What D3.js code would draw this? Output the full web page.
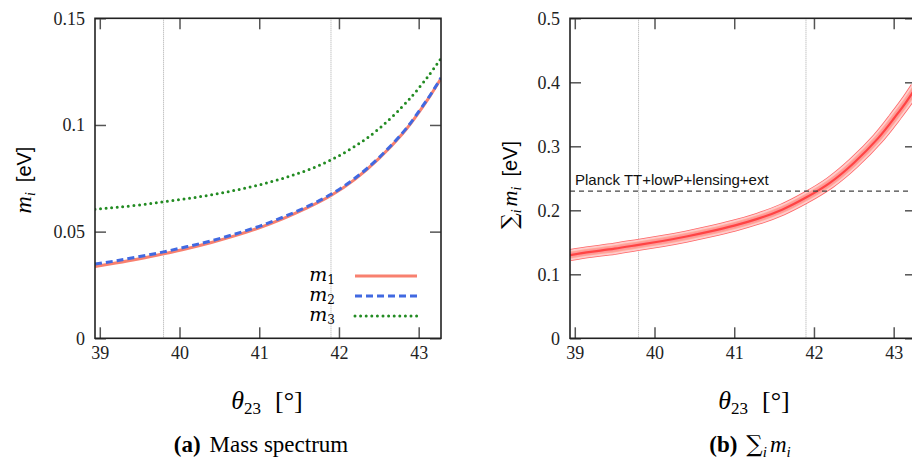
<!DOCTYPE html>
<html>
<head>
<meta charset="utf-8">
<script src="https://cdn.jsdelivr.net/npm/d3@7"></script>
<style>
  body { margin: 0; background: #fff; }
  svg { display: block; }
</style>
</head>
<body>
<script>
// Data ////////////////////////////////////////////////////////////////////

const theta = [38.94, 39.2, 39.5, 39.8, 40.1, 40.4, 40.7, 41.0, 41.3, 41.6,
  41.9, 42.2, 42.5, 42.8, 43.0, 43.15, 43.28];
const m1 = [0.0337, 0.0353, 0.0373, 0.0396, 0.0421, 0.0449, 0.0481, 0.0518,
  0.0561, 0.0611, 0.0669, 0.0745, 0.0842, 0.0960, 0.1058, 0.1140, 0.1218];
const m2 = [0.0348, 0.0363, 0.0383, 0.0405, 0.0430, 0.0457, 0.0489, 0.0525,
  0.0568, 0.0617, 0.0675, 0.0750, 0.0846, 0.0964, 0.1062, 0.1143, 0.1221];
const m3 = [0.0605, 0.0614, 0.0625, 0.0640, 0.0655, 0.0673, 0.0694, 0.0719,
  0.0750, 0.0788, 0.0836, 0.0900, 0.0982, 0.1088, 0.1172, 0.1244, 0.1312];
const sumMass = [0.130, 0.135, 0.140, 0.146, 0.152, 0.159, 0.167, 0.176,
  0.187, 0.201, 0.220, 0.243, 0.274, 0.312, 0.343, 0.368, 0.392];

const thetaDomain = [38.94, 43.28];
const thetaTicks = [39, 40, 41, 42, 43];
const markedTheta = [39.8, 41.9];
const massDomain = [0, 0.15];
const massTicks = [0, 0.05, 0.1, 0.15];
const sumDomain = [0, 0.5];
const sumTicks = [0, 0.1, 0.2, 0.3, 0.4, 0.5];
const planckLimit = 0.23;
const planckLabel = "Planck TT+lowP+lensing+ext";
const legendIndex = ["1", "2", "3"];

const serif = "'Liberation Serif', 'DejaVu Serif', serif";
const mathSerif = "'DejaVu Serif', 'Liberation Serif', serif";
const sans = "'Liberation Sans', Arial, sans-serif";

const svg = d3
  .select("body")
  .append("svg")
  .attr("width", 912)
  .attr("height", 459);

const plotTop = 18.3;
const plotBottom = 338.3;

// Panel (a) ///////////////////////////////////////////////////////////////

const xa = d3.scaleLinear().domain(thetaDomain).range([95, 441]);
const ya = d3.scaleLinear().domain(massDomain).range([plotBottom, plotTop]);
const panelA = svg.append("g");

drawGuides(panelA, xa, ya, "clipA");

const massSeries = [
  { values: m1, color: "#f8806f", dash: null, width: 3 },
  { values: m2, color: "#4169e1", dash: "7,4", width: 3 },
  { values: m3, color: "#228b22", dash: "0,5.6", width: 3, cap: "round" },
];

massSeries.forEach((s) => {
  const line = d3
    .line()
    .x((d, i) => xa(theta[i]))
    .y((d) => ya(d))
    .curve(d3.curveNatural);
  panelA
    .append("path")
    .attr("clip-path", "url(#clipA)")
    .attr("d", line(s.values))
    .attr("fill", "none")
    .attr("stroke", s.color)
    .attr("stroke-width", s.width)
    .attr("stroke-linecap", s.cap || "butt")
    .attr("stroke-dasharray", s.dash);
});

drawFrame(panelA, xa, ya, massTicks);

// legend
const legend = panelA.append("g").attr("transform", "translate(0, 276)");
massSeries.forEach((s, i) => {
  const row = legend.append("g").attr("transform", `translate(0, ${i * 20})`);
  const t = row
    .append("text")
    .attr("x", 335)
    .attr("y", 5)
    .attr("text-anchor", "end")
    .style("font-family", mathSerif);
  t.append("tspan").style("font-size", "19px").style("font-style", "italic").text("m");
  t.append("tspan").style("font-size", "12px").attr("dy", 3).text(legendIndex[i]);
  row
    .append("line")
    .attr("x1", 355)
    .attr("x2", 417)
    .attr("stroke", s.color)
    .attr("stroke-width", s.width)
    .attr("stroke-linecap", s.cap || "butt")
    .attr("stroke-dasharray", s.dash);
});

drawThetaTitle(svg, 267);
drawMassTitle(svg.append("g").attr("transform", "translate(31, 180) rotate(-90)"), false);

const capA = svg
  .append("text")
  .attr("x", 261)
  .attr("y", 452)
  .attr("text-anchor", "middle")
  .style("font-family", serif)
  .style("font-size", "23px");
capA.append("tspan").style("font-weight", "bold").text("(a)");
capA.append("tspan").attr("dx", 9).text("Mass spectrum");

// Panel (b) ///////////////////////////////////////////////////////////////

const xb = d3.scaleLinear().domain(thetaDomain).range([570, 916]);
const yb = d3.scaleLinear().domain(sumDomain).range([plotBottom, plotTop]);
const panelB = svg.append("g");

drawGuides(panelB, xb, yb, "clipB");

const sumLine = d3
  .line()
  .x((d, i) => xb(theta[i]))
  .y((d) => yb(d))
  .curve(d3.curveNatural);

[
  { w: 12, c: "#f66" },
  { w: 10.5, c: "#fcc" },
  { w: 7, c: "#fa9" },
  { w: 5, c: "#f99" },
  { w: 2.2, c: "#f44" },
].forEach((b) => {
  panelB
    .append("path")
    .attr("clip-path", "url(#clipB)")
    .attr("d", sumLine(sumMass))
    .attr("fill", "none")
    .attr("stroke", b.c)
    .attr("stroke-width", b.w);
});

panelB
  .append("line")
  .attr("x1", xb(thetaDomain[0]))
  .attr("x2", xb(thetaDomain[1]))
  .attr("y1", yb(planckLimit))
  .attr("y2", yb(planckLimit))
  .attr("stroke", "#444")
  .attr("stroke-width", 1.3)
  .attr("stroke-dasharray", "5,4");

panelB
  .append("text")
  .attr("x", 575)
  .attr("y", yb(planckLimit) - 6)
  .style("font-family", sans)
  .style("font-size", "15px")
  .attr("fill", "#111")
  .text(planckLabel);

drawFrame(panelB, xb, yb, sumTicks);

drawThetaTitle(svg, 754);
drawMassTitle(svg.append("g").attr("transform", "translate(517, 185) rotate(-90)"), true);

const capB = svg
  .append("text")
  .attr("x", 750)
  .attr("y", 452)
  .attr("text-anchor", "middle")
  .style("font-family", serif)
  .style("font-size", "23px");
capB.append("tspan").style("font-weight", "bold").text("(b)");
capB.append("tspan").attr("dx", 9).style("font-family", mathSerif).text("\u2211");
capB.append("tspan").style("font-size", "15px").style("font-style", "italic").attr("dy", 5).text("i");
capB.append("tspan").attr("dy", -5).attr("dx", 3).style("font-style", "italic").text("m");
capB.append("tspan").style("font-size", "15px").style("font-style", "italic").attr("dy", 5).text("i");

// Helpers /////////////////////////////////////////////////////////////////

function drawGuides(root, x, y, clipId) {
  root
    .append("clipPath")
    .attr("id", clipId)
    .append("rect")
    .attr("x", x.range()[0])
    .attr("y", plotTop)
    .attr("width", x.range()[1] - x.range()[0])
    .attr("height", plotBottom - plotTop);

  root
    .selectAll("line.guide")
    .data(markedTheta)
    .join("line")
    .attr("class", "guide")
    .attr("x1", (d) => x(d))
    .attr("x2", (d) => x(d))
    .attr("y1", plotTop)
    .attr("y2", plotBottom)
    .attr("stroke", "#aaa")
    .attr("stroke-width", 1)
    .attr("stroke-dasharray", "1,1");
}

function drawFrame(root, x, y, yTicks) {
  const tick = -11;
  const styleAxis = (g) => {
    g.attr("font-family", serif).attr("font-size", 18);
    g.select(".domain").remove();
    g.selectAll(".tick line").attr("stroke", "#555").attr("stroke-width", 1.5);
    g.selectAll("text")
      .style("font-family", serif)
      .style("font-size", "18px")
      .attr("fill", "#222");
  };

  root
    .append("g")
    .attr("transform", `translate(0, ${plotBottom})`)
    .call(
      d3.axisBottom(x).tickValues(thetaTicks).tickSize(tick).tickPadding(8).tickFormat((d) => String(d))
    )
    .call(styleAxis);
  root
    .append("g")
    .attr("transform", `translate(0, ${plotTop})`)
    .call(d3.axisTop(x).tickValues(thetaTicks).tickSize(tick).tickFormat(""))
    .call(styleAxis);
  root
    .append("g")
    .attr("transform", `translate(${x.range()[0]}, 0)`)
    .call(d3.axisLeft(y).tickValues(yTicks).tickSize(tick).tickPadding(10).tickFormat((d) => String(d)))
    .call(styleAxis);
  root
    .append("g")
    .attr("transform", `translate(${x.range()[1]}, 0)`)
    .call(d3.axisRight(y).tickValues(yTicks).tickSize(tick).tickFormat(""))
    .call(styleAxis);

  root
    .append("rect")
    .attr("x", x.range()[0])
    .attr("y", plotTop)
    .attr("width", x.range()[1] - x.range()[0])
    .attr("height", plotBottom - plotTop)
    .attr("fill", "none")
    .attr("stroke", "#222")
    .attr("stroke-width", 1.6);
}

function drawThetaTitle(root, cx) {
  const t = root
    .append("text")
    .attr("x", cx)
    .attr("y", 409)
    .attr("text-anchor", "middle")
    .style("font-family", serif)
    .style("font-size", "26px");
  t.append("tspan").style("font-style", "italic").text("\u03b8");
  t.append("tspan").style("font-size", "17px").attr("dy", 5).text("23");
  t.append("tspan").attr("dy", -5).attr("dx", 14).text("[\u00b0]");
}

function drawMassTitle(root, withSum) {
  const t = root.append("text").attr("text-anchor", "middle").style("font-family", serif);
  if (withSum) {
    t.append("tspan").style("font-size", "22px").style("font-family", mathSerif).text("\u2211");
    t.append("tspan").style("font-size", "14px").style("font-style", "italic").attr("dy", 4).text("i");
    t.append("tspan").style("font-size", "22px").style("font-style", "italic").attr("dy", -4).attr("dx", 3).text("m");
  } else {
    t.append("tspan").style("font-size", "24px").style("font-style", "italic").text("m");
  }
  t.append("tspan").style("font-size", "14px").style("font-style", "italic").attr("dy", 4).text("i");
  t.append("tspan")
    .style("font-family", sans)
    .style("font-size", "20px")
    .attr("dy", -4)
    .attr("dx", 10)
    .text("[eV]");
}
</script>
</body>
</html>
